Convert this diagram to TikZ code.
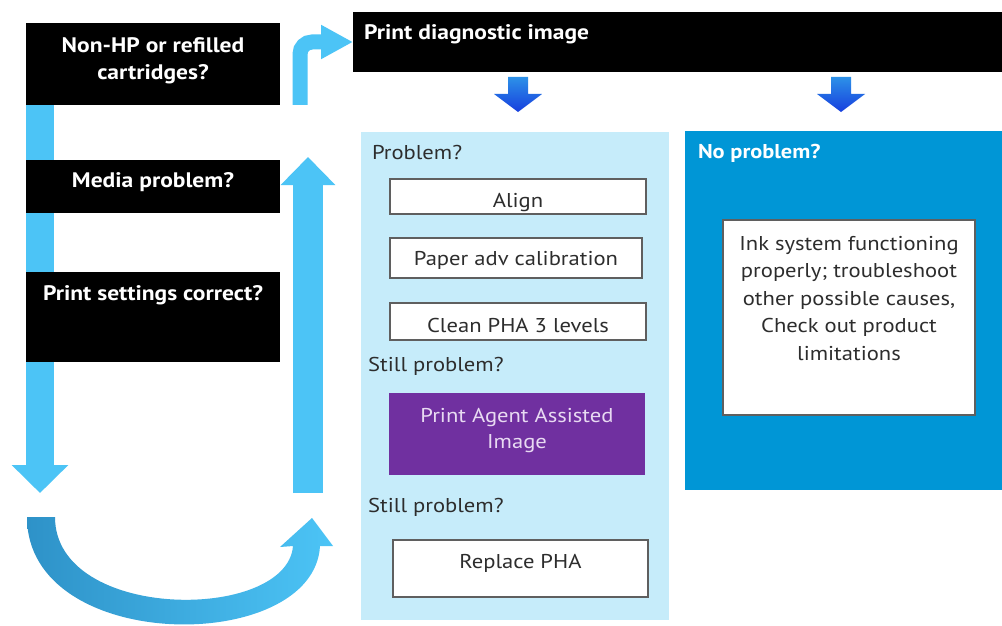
\documentclass[tikz,border=0pt]{standalone}
\usepackage{fontspec}
\setmainfont{PT Sans}
\newfontfamily\hpreg{PT Sans}[FakeStretch=1.13]
\newfontfamily\hpbf{PT Sans Bold}[FakeStretch=1.12]
\usetikzlibrary{arrows.meta}
\definecolor{hpcyan}{RGB}{76,196,246}
\definecolor{hpcyandark}{RGB}{46,146,200}
\definecolor{panelblue}{RGB}{198,236,250}
\definecolor{hpblue}{RGB}{0,150,214}
\definecolor{hppurple}{RGB}{112,48,160}
\definecolor{lavender}{RGB}{232,218,242}
\definecolor{textgray}{RGB}{45,45,45}
\definecolor{bordergray}{RGB}{95,95,95}
\definecolor{arrowtop}{RGB}{45,145,232}
\definecolor{arrowbot}{RGB}{22,62,222}
\begin{document}
\begin{tikzpicture}[x=1pt,y=-1pt,
  box/.style={inner sep=0pt, outer sep=0pt, anchor=north west},
  blackbox/.style={box, fill=black, text=white, font=\hpbf\fontsize{21}{27}\selectfont},
  whitebox/.style={box, fill=white, draw=bordergray, line width=1.5pt, text=textgray, font=\hpreg\fontsize{20}{27}\selectfont},
  purplebox/.style={box, fill=hppurple, text=lavender, font=\hpreg\fontsize{20}{26}\selectfont},
  lbl/.style={anchor=base west, inner sep=0pt, text=textgray, font=\hpreg\fontsize{20}{27}\selectfont},
  bigarrow/.style={draw=hpcyan, line width=#1},
]
\useasboundingbox (0,0) rectangle (1002,626);
\fill[white] (0,0) rectangle (1002,626);

% top bar
\node[blackbox, minimum width=649pt, text height=28pt, text depth=32pt] (diag) at (353,12)
  {\parbox[t]{627pt}{\raggedright Print diagnostic image}};

% panels
\node[box, fill=panelblue, minimum width=308pt, text height=27pt, text depth=461pt,
      text=textgray, font=\hpreg\fontsize{20}{27}\selectfont] (midpanel) at (361,132)
  {\parbox[t]{286pt}{\raggedright Problem?}};
\node[box, fill=hpblue, minimum width=317pt, text height=27pt, text depth=332pt,
      text=white, font=\hpbf\fontsize{20}{27}\selectfont] (rightpanel) at (685,131)
  {\parbox[t]{291pt}{\raggedright No problem?}};

% small gradient arrows
\shade[top color=arrowtop, bottom color=arrowbot]
  (508,77) -- (528,77) -- (528,94) -- (542,94) -- (518,112) -- (494,94) -- (508,94) -- cycle;
\shade[top color=arrowtop, bottom color=arrowbot]
  (831,77) -- (851,77) -- (851,94) -- (865,94) -- (841,112) -- (817,94) -- (831,94) -- cycle;

% middle panel content
\node[whitebox, minimum width=256pt, text height=28pt, text depth=7pt] (align) at (390,179) {Align};
\node[whitebox, minimum width=252pt, text height=27pt, text depth=13pt] (paper) at (390,238) {Paper adv calibration};
\node[whitebox, minimum width=256pt, text height=29pt, text depth=8pt] (clean) at (390,303) {Clean PHA 3 levels};
\node[lbl] (still1) at (368,371) {Still problem?};
\node[purplebox, minimum width=256pt, text height=29pt, text depth=53pt] (agent) at (389,393)
  {\parbox[t]{250pt}{\centering Print Agent Assisted\\Image}};
\node[lbl] (still2) at (368,512) {Still problem?};
\node[whitebox, minimum width=255pt, text height=28pt, text depth=29pt] (replace) at (393,540) {Replace PHA};

% right panel content
\node[whitebox, minimum width=252pt, text height=30pt, text depth=165pt,
      font=\hpreg\fontsize{20}{27.5}\selectfont] (ink) at (723,220)
  {\parbox[t]{246pt}{\centering Ink system functioning\\properly; troubleshoot\\other possible causes,\\Check out product\\limitations}};

% big cyan arrows
\coordinate (downstart) at (40,52);
\coordinate (downend) at (40,493);
\draw[bigarrow=28pt, -{Triangle[length=28pt,width=55pt]}] (downstart) -- (downend);
\coordinate (upstart) at (308,493);
\coordinate (upend) at (308,157);
\draw[bigarrow=30pt, -{Triangle[length=28pt,width=53pt]}] (upstart) -- (upend);
\coordinate (bentstart) at (300,105);
\draw[bigarrow=15pt, rounded corners=12pt, -{Triangle[length=32pt,width=32pt]}]
  (bentstart) -- (300,42) -- (diag.west);

% curved return arrow
\shade[left color=hpcyandark, right color=hpcyan]
  (27,517) .. controls (27,655) and (314,655) .. (320,546) -- (333,546) -- (312,518)
  -- (280,547) -- (293,546) .. controls (287,622) and (55,622) .. (55,517) -- cycle;

% left question boxes
\node[blackbox, minimum width=254pt, text height=30pt, text depth=52pt] (b1) at (26,23)
  {\parbox[t]{250pt}{\centering Non-HP or refilled\\cartridges?}};
\node[blackbox, minimum width=254pt, text height=27pt, text depth=26pt] (b2) at (26,160) {Media problem?};
\node[blackbox, minimum width=254pt, text height=28pt, text depth=62pt] (b3) at (26,272) {Print settings correct?};
\end{tikzpicture}
\end{document}
